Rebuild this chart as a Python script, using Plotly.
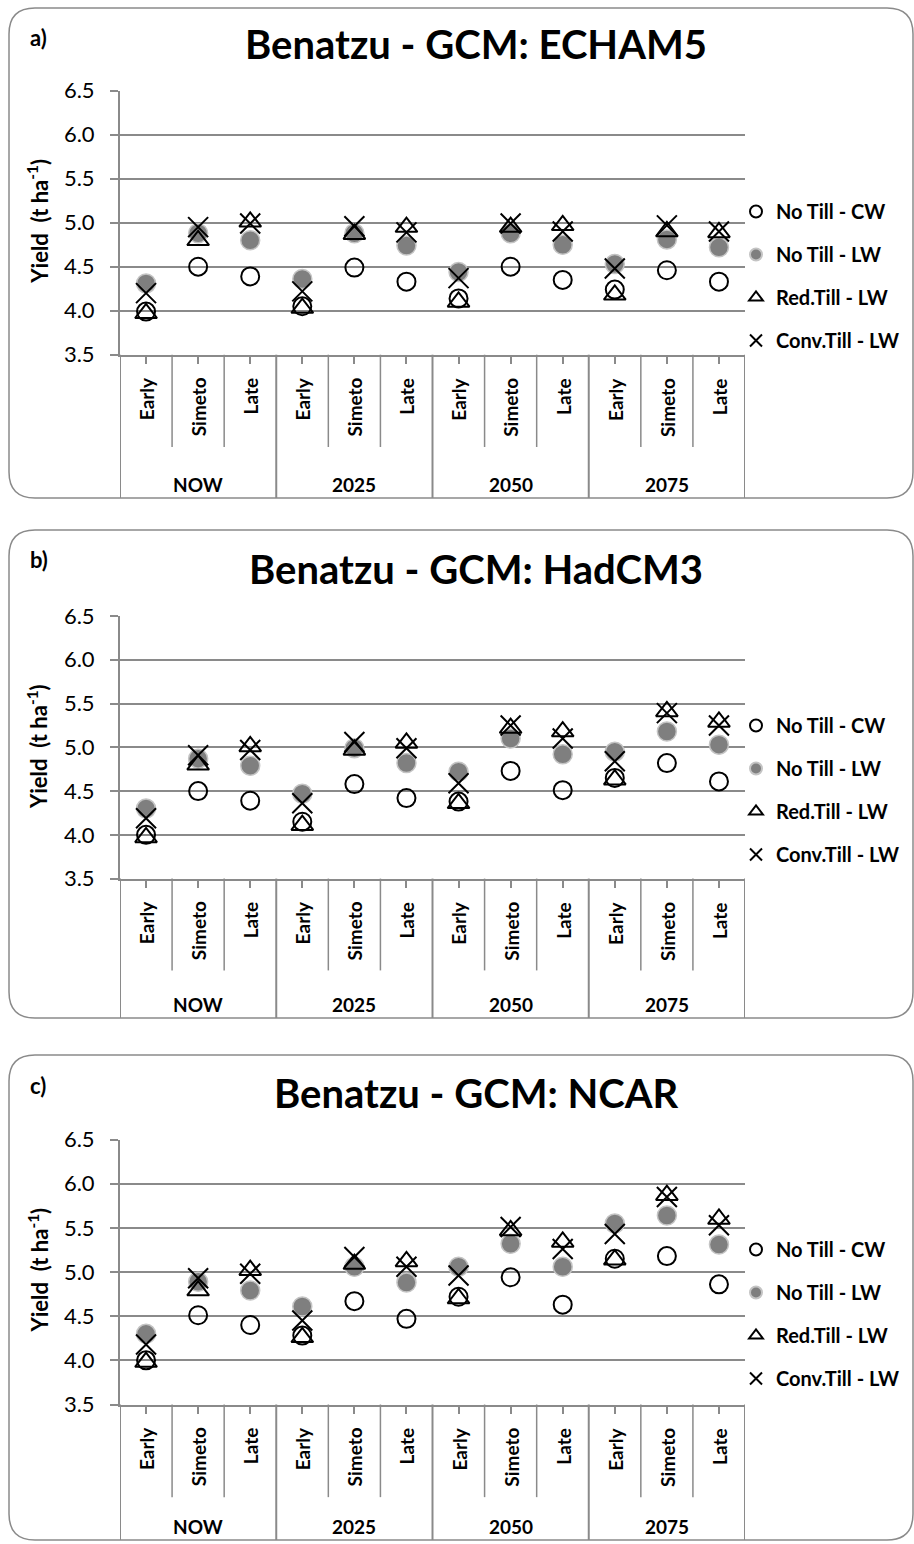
import plotly.graph_objects as go

W, H = 914, 1544

# ---- data -------------------------------------------------------------
periods = ["NOW", "2025", "2050", "2075"]
sowings = ["Early", "Simeto", "Late"]
series_names = ["No Till - CW", "No Till - LW", "Red.Till - LW", "Conv.Till - LW"]
gcm_names = ["ECHAM5", "HadCM3", "NCAR"]
panel_letters = ["a)", "b)", "c)"]
y_ticks = [3.5, 4.0, 4.5, 5.0, 5.5, 6.0, 6.5]

# yield (t/ha), 12 values each: 4 periods x 3 sowing dates
echam5_nt_cw = [3.99, 4.50, 4.39, 4.05, 4.49, 4.33, 4.14, 4.50, 4.35, 4.24, 4.46, 4.33]
echam5_nt_lw = [4.31, 4.88, 4.80, 4.36, 4.88, 4.74, 4.44, 4.88, 4.75, 4.53, 4.81, 4.72]
echam5_rt_lw = [3.97, 4.80, 5.01, 4.03, 4.87, 4.95, 4.10, 4.95, 4.97, 4.18, 4.90, 4.89]
echam5_ct_lw = [4.20, 4.95, 4.99, 4.22, 4.96, 4.89, 4.37, 4.99, 4.90, 4.48, 4.97, 4.90]

hadcm3_nt_cw = [4.00, 4.50, 4.39, 4.15, 4.58, 4.42, 4.38, 4.73, 4.51, 4.65, 4.82, 4.61]
hadcm3_nt_lw = [4.30, 4.87, 4.79, 4.47, 4.99, 4.82, 4.72, 5.10, 4.92, 4.95, 5.18, 5.03]
hadcm3_rt_lw = [3.97, 4.80, 5.01, 4.11, 4.97, 5.05, 4.36, 5.22, 5.18, 4.63, 5.41, 5.29]
hadcm3_ct_lw = [4.19, 4.91, 4.97, 4.36, 5.06, 4.99, 4.59, 5.25, 5.10, 4.84, 5.39, 5.25]

ncar_nt_cw = [4.00, 4.51, 4.40, 4.28, 4.67, 4.47, 4.72, 4.94, 4.63, 5.15, 5.18, 4.86]
ncar_nt_lw = [4.30, 4.89, 4.79, 4.61, 5.06, 4.88, 5.06, 5.32, 5.06, 5.55, 5.64, 5.31]
ncar_rt_lw = [3.98, 4.79, 5.02, 4.26, 5.09, 5.12, 4.70, 5.47, 5.34, 5.14, 5.87, 5.60]
ncar_ct_lw = [4.18, 4.93, 4.98, 4.45, 5.17, 5.06, 4.96, 5.51, 5.26, 5.43, 5.85, 5.53]

panels_data = [
    [echam5_nt_cw, echam5_nt_lw, echam5_rt_lw, echam5_ct_lw],
    [hadcm3_nt_cw, hadcm3_nt_lw, hadcm3_rt_lw, hadcm3_ct_lw],
    [ncar_nt_cw, ncar_nt_lw, ncar_rt_lw, ncar_ct_lw],
]

# ---- layout geometry (pixels) ------------------------------------------
FONT = "Lato"
GRID = "#8a8a8a"
plot_left, plot_right = 120, 745
plot_tops = [90.7, 616.0, 1139.5]
plot_bottoms = [354.7, 878.6, 1404.5]
box_tops = [8, 530, 1055]
box_bottoms = [498, 1018, 1540]
box_left, box_right = 9, 913
legend_first = [206, 720, 1244]


def px(xp):
    return xp / W


def py(yp):
    return 1 - yp / H


marker_styles = [
    dict(symbol="circle-open", size=18, color="black", line=dict(width=2, color="black")),
    dict(symbol="circle", size=19, color="#7f7f7f", line=dict(width=1.5, color="#c4c4c4")),
    dict(symbol="triangle-up-open", size=19, color="black", line=dict(width=2, color="black")),
    dict(symbol="x-thin-open", size=20, color="black", line=dict(width=2, color="black")),
]

categories = [f"{p}|{s}" for p in periods for s in sowings]
xpos = list(range(len(categories)))

fig = go.Figure()
layout = {}
shapes = []
annotations = []

for k in range(3):
    sfx = "" if k == 0 else str(k + 1)
    xa, ya = "x" + sfx, "y" + sfx
    leg = "legend" if k == 0 else "legend" + str(k + 1)
    top, bot = plot_tops[k], plot_bottoms[k]
    ph = bot - top

    for s, (name, vals) in enumerate(zip(series_names, panels_data[k])):
        fig.add_trace(go.Scatter(
            x=xpos, y=vals, mode="markers", name=name,
            marker=marker_styles[s], xaxis=xa, yaxis=ya,
            legend=leg, legendgroup=f"{k}-{s}", showlegend=True,
            hoverinfo="skip",
        ))

    layout["xaxis" + sfx] = dict(
        domain=[px(plot_left), px(plot_right)], anchor=ya, automargin=False,
        range=[-0.5, len(categories) - 0.5], showgrid=False, zeroline=False,
        showline=True, linecolor=GRID, linewidth=2,
        tickvals=xpos, ticks="outside", ticklen=7, tickwidth=1.5, tickcolor=GRID,
        showticklabels=False, fixedrange=True,
    )
    layout["yaxis" + sfx] = dict(
        domain=[py(bot), py(top)], anchor=xa, automargin=False,
        range=[3.5, 6.5], tickvals=y_ticks, tickformat=".1f",
        showgrid=True, gridcolor=GRID, gridwidth=2, zeroline=False,
        showline=True, linecolor=GRID, linewidth=2,
        ticks="outside", ticklen=8, tickwidth=2, tickcolor=GRID,
        tickfont=dict(family=FONT, size=22, color="black"),
        ticklabelstandoff=11, fixedrange=True,
    )

    # legend on the right of each panel
    layout[leg] = dict(
        x=px(736), y=py(legend_first[k] - 14), xanchor="left", yanchor="top",
        font=dict(family=FONT, size=20, color="black", weight="bold"),
        bgcolor="rgba(0,0,0,0)", borderwidth=0, itemsizing="constant",
        tracegroupgap=14, itemclick=False, itemdoubleclick=False,
    )

    # rounded panel frame
    x0, x1, y0, y1, r = box_left, box_right, box_tops[k], box_bottoms[k], 26
    pts = [
        ("M", (x0 + r, y0)), ("L", (x1 - r, y0)), ("Q", (x1, y0), (x1, y0 + r)),
        ("L", (x1, y1 - r)), ("Q", (x1, y1), (x1 - r, y1)), ("L", (x0 + r, y1)),
        ("Q", (x0, y1), (x0, y1 - r)), ("L", (x0, y0 + r)), ("Q", (x0, y0), (x0 + r, y0)),
    ]
    path = ""
    for cmd, *coords in pts:
        path += cmd + " ".join(f"{px(a):.5f},{py(b):.5f}" for a, b in coords) + " "
    shapes.append(dict(type="path", path=path + "Z", xref="paper", yref="paper",
                       line=dict(color=GRID, width=1.5), layer="below"))

    # category axis dividers
    yd = "y" + sfx + " domain"
    inner_bot = -(447 - 354.7) / 264.0
    outer_bot = -(y1 - bot) / ph
    for i in range(len(categories) + 1):
        b = i - 0.5
        is_group = i % len(sowings) == 0
        shapes.append(dict(
            type="line", xref=xa, yref=yd, x0=b, x1=b, y0=0,
            y1=outer_bot if is_group else inner_bot,
            line=dict(color=GRID, width=2 if is_group else 1.5),
        ))

    for i, c in enumerate(categories):
        annotations.append(dict(
            x=i, y=-21 / ph, xref=xa, yref=yd, text="<b>" + c.split("|")[1] + "</b>",
            textangle=-90, showarrow=False, xanchor="center", yanchor="top",
            font=dict(family=FONT, size=19, color="black"),
        ))
    for g, p in enumerate(periods):
        annotations.append(dict(
            x=g * 3 + 1, y=-(y1 - 14 - bot) / ph, xref=xa, yref=yd, text="<b>" + p + "</b>",
            showarrow=False, xanchor="center", yanchor="middle",
            font=dict(family=FONT, size=19, color="black"),
        ))

    # axis title, panel title and panel letter
    annotations.append(dict(
        x=px(38), y=py(top + 131), xref="paper", yref="paper",
        text="<b>Yield  (t ha<sup>-1</sup>)</b>", textangle=-90, showarrow=False,
        xanchor="center", yanchor="middle", font=dict(family=FONT, size=22, color="black"),
    ))
    annotations.append(dict(
        x=px(476), y=py(top - 47), xref="paper", yref="paper",
        text=f"<b>Benatzu - GCM: {gcm_names[k]}</b>", showarrow=False,
        xanchor="center", yanchor="middle", font=dict(family=FONT, size=40, color="black"),
    ))
    annotations.append(dict(
        x=px(28), y=py(box_tops[k] + 30), xref="paper", yref="paper",
        text=f"<b>{panel_letters[k]}</b>", showarrow=False,
        xanchor="left", yanchor="middle", font=dict(family=FONT, size=22, color="black"),
    ))

fig.update_layout(
    width=W, height=H, margin=dict(l=0, r=0, t=0, b=0, autoexpand=False),
    paper_bgcolor="white", plot_bgcolor="white",
    shapes=shapes, annotations=annotations, **layout,
)

fig.write_html("out.html", config={"displayModeBar": False})
